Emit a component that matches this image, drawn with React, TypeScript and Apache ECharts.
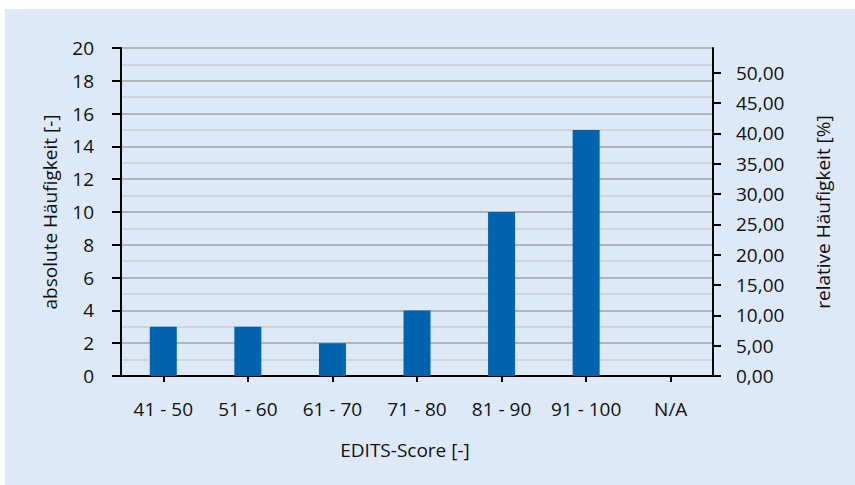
import React, { useEffect, useRef } from "react";
import * as echarts from "echarts";

const categories = ["41 - 50", "51 - 60", "61 - 70", "71 - 80", "81 - 90", "91 - 100", "N/A"];
const counts = [3, 3, 2, 4, 10, 15, 0];
const leftTicks = [0, 2, 4, 6, 8, 10, 12, 14, 16, 18, 20];
const rightTicks = [0, 5, 10, 15, 20, 25, 30, 35, 40, 45, 50];

const FONT = "'Open Sans', 'Noto Sans', sans-serif";
const TXT = "#111111";
const FS = 19;

export default function App() {
  const ref = useRef<HTMLDivElement>(null);
  useEffect(() => {
    if (!ref.current) return;
    const chart = echarts.init(ref.current, undefined, { renderer: "svg" });
    const total = counts.reduce((a, b) => a + b, 0);
    const leftMax = leftTicks[leftTicks.length - 1];
    const rightMax = (leftMax / total) * 100;
    chart.setOption({
      animation: false,
      textStyle: { fontFamily: FONT },
      grid: { left: 116, right: 142, top: 39, bottom: 109, containLabel: false },
      xAxis: {
        type: "category",
        data: categories,
        boundaryGap: true,
        axisLine: { show: true, lineStyle: { color: "#000", width: 2 } },
        axisTick: { show: true, alignWithLabel: true, interval: 0, length: 6, lineStyle: { color: "#000", width: 2 } },
        axisLabel: { color: TXT, fontSize: FS, fontFamily: FONT, margin: 23, interval: 0 },
        name: "EDITS-Score [-]",
        nameLocation: "middle",
        nameGap: 64,
        nameTextStyle: { color: TXT, fontSize: FS, fontFamily: FONT, padding: [0, 24, 0, 0] },
        splitLine: { show: false },
      },
      yAxis: [
        {
          type: "value",
          min: 0,
          max: leftMax,
          interval: 2,
          position: "left",
          axisLine: { show: true, lineStyle: { color: "#000", width: 2 } },
          axisTick: { show: true, length: 9, lineStyle: { color: "#000", width: 2 } },
          axisLabel: { color: TXT, fontSize: FS, fontFamily: FONT, margin: 27 },
          splitLine: { show: true, lineStyle: { color: "#a3a3a3", width: 1.5 } },
          minorTick: { show: false, splitNumber: 2 },
          minorSplitLine: { show: true, lineStyle: { color: "#c9cccf", width: 1.5 } },
          name: "absolute Häufigkeit [-]",
          nameLocation: "middle",
          nameGap: 62,
          nameRotate: 90,
          nameTextStyle: { color: TXT, fontSize: FS, fontFamily: FONT },
        },
        {
          type: "value",
          min: 0,
          max: rightMax,
          position: "right",
          axisLine: { show: true, lineStyle: { color: "#000", width: 2 } },
          axisTick: { show: true, length: 8, customValues: rightTicks, lineStyle: { color: "#000", width: 2 } },
          axisLabel: {
            color: TXT,
            fontSize: FS,
            fontFamily: FONT,
            margin: 23,
            customValues: rightTicks,
            formatter: (v: number) => v.toFixed(2).replace(".", ","),
          },
          splitLine: { show: false },
          name: "relative Häufigkeit [%]",
          nameLocation: "middle",
          nameGap: 100,
          nameRotate: 90,
          nameTextStyle: { color: TXT, fontSize: FS, fontFamily: FONT, padding: [0, 0, 0, 0] },
        },
      ],
      series: [
        {
          type: "bar",
          data: counts,
          yAxisIndex: 0,
          barWidth: 27,
          itemStyle: { color: "#0063ad" },
        },
      ],
    });
    return () => chart.dispose();
  }, []);
  return (
    <div style={{ position: "absolute", left: 0, top: 0, width: 855, height: 485, background: "#ffffff" }}>
      <div
        ref={ref}
        style={{ position: "absolute", left: 5, top: 9, width: 850, height: 476, background: "#dde9f6" }}
      />
    </div>
  );
}
